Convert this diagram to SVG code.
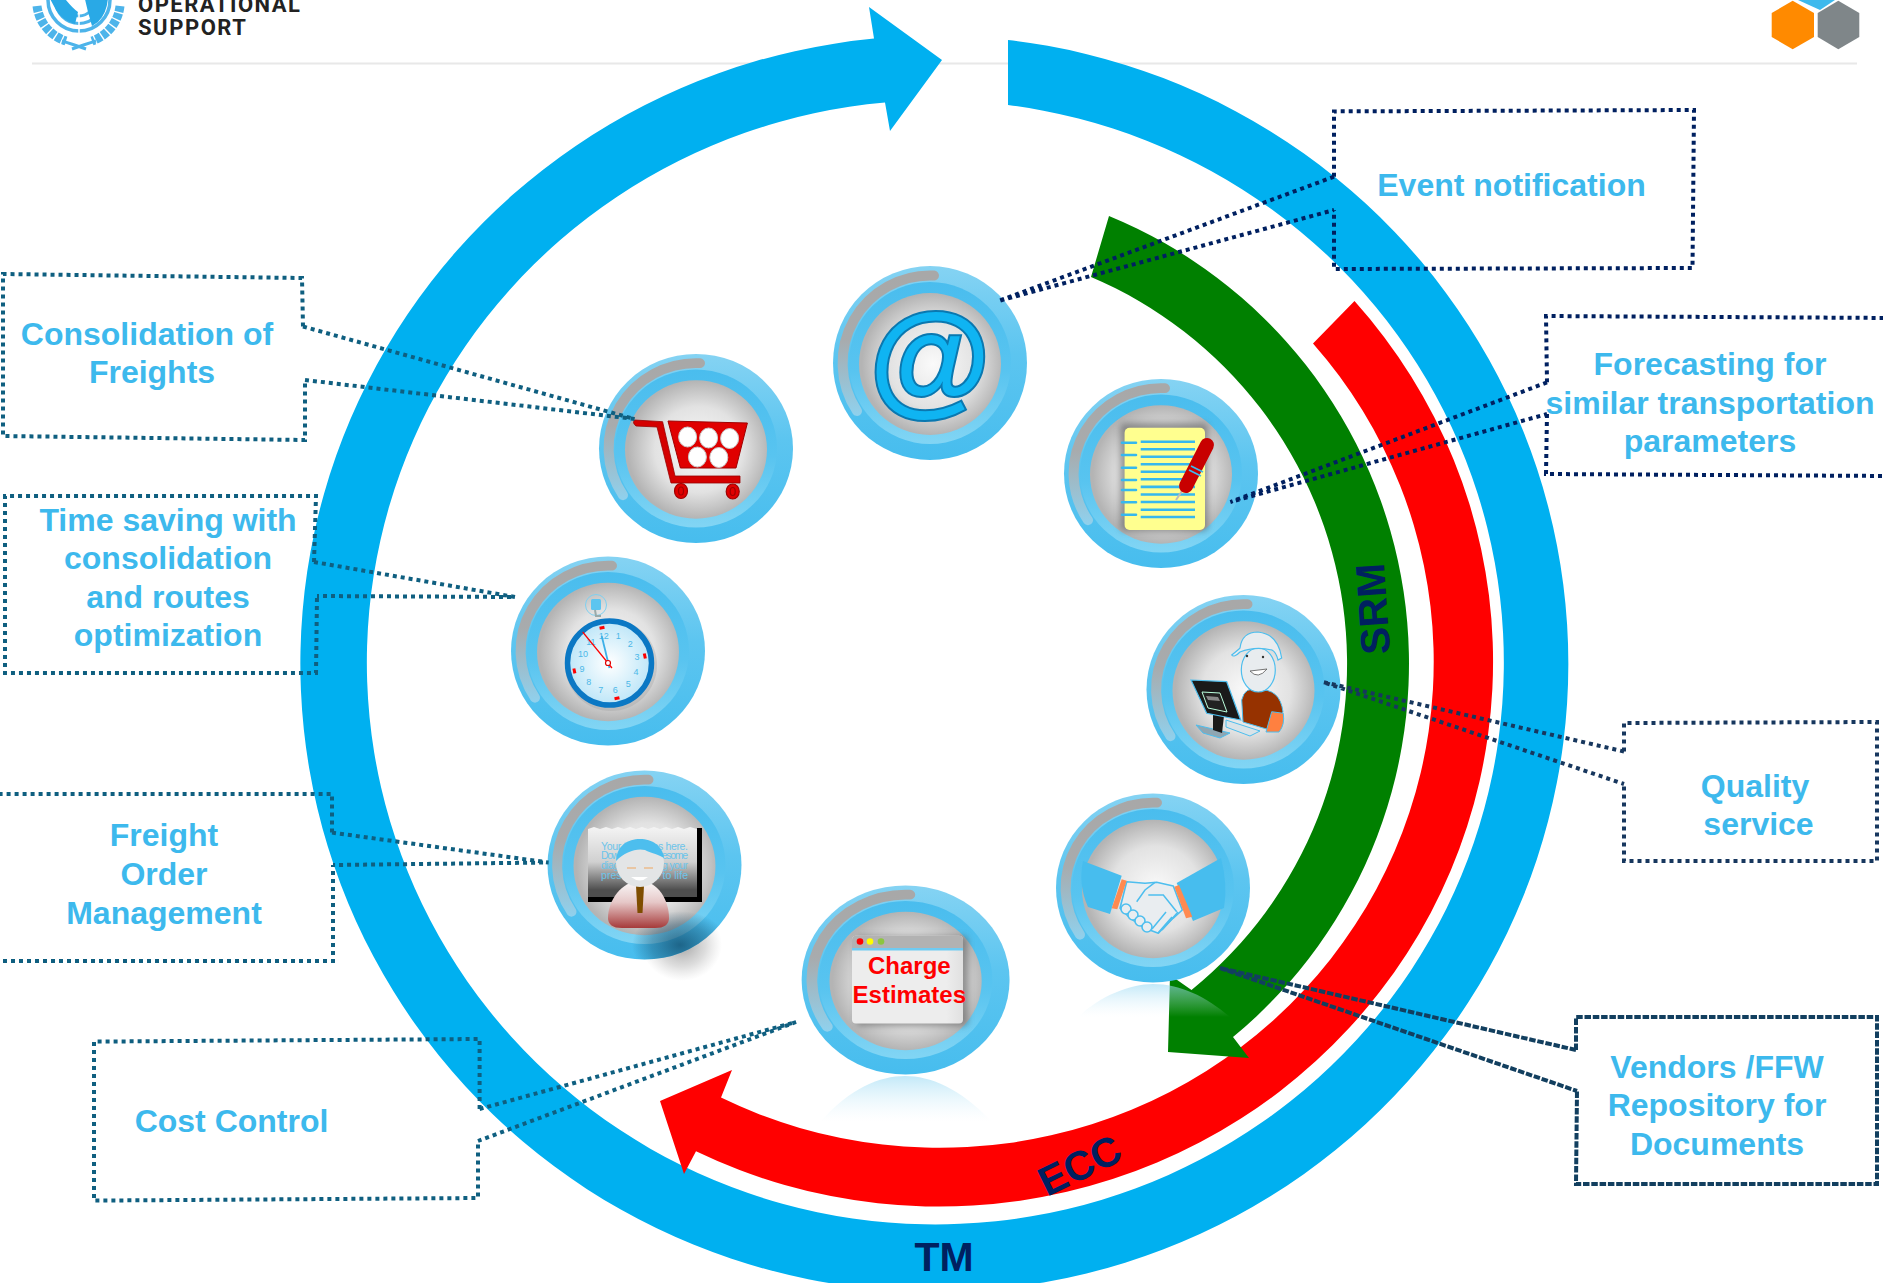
<svg xmlns="http://www.w3.org/2000/svg" xmlns:xlink="http://www.w3.org/1999/xlink" width="1883" height="1283" viewBox="0 0 1883 1283">
<style>
text{font-family:"Liberation Sans",Arial,sans-serif}
.lbl{font-size:32px;font-weight:700;fill:#3DB9ED;text-anchor:middle}
.dark{font-size:41px;font-weight:700;fill:#002060;text-anchor:middle}
.box,.ptr{fill:none;stroke-width:4;stroke-dasharray:4 4}
.teal{stroke:#0F5F80}.navy{stroke:#002060}.slate{stroke:#17375E}
.vend{stroke:#123F5F;stroke-dasharray:6.5 1.8}
.num{font-size:9px;fill:#4DB8E8;text-anchor:middle}
.ce{font-size:24px;font-weight:700;fill:#F00;text-anchor:middle}
.bt{font-size:10.5px;fill:#6CC4EA}
.hand{fill:#E9EDF0;stroke:#4DBEEE;stroke-width:1.6;stroke-linejoin:round}
.nl{fill:none;stroke:#36B8EE;stroke-width:2.6}
.un{fill:none;stroke:#4DB4EA}
</style>
<defs>
<filter id="soft" x="-30%" y="-30%" width="160%" height="160%"><feGaussianBlur stdDeviation="3"/></filter>
<clipPath id="clipOrder"><ellipse cx="644.5" cy="865" rx="97" ry="94.6"/></clipPath>
<linearGradient id="gOuter" x1="0" y1="0" x2="0" y2="1"><stop offset="0" stop-color="#85D3F3"/><stop offset=".45" stop-color="#5CC5F0"/><stop offset="1" stop-color="#47BDEE"/></linearGradient>
<linearGradient id="gRing" x1="0" y1="0" x2="0" y2="1"><stop offset="0" stop-color="#4ABDEE"/><stop offset=".55" stop-color="#58C4F0"/><stop offset="1" stop-color="#82D5F4"/></linearGradient>
<radialGradient id="gDisc" cx=".52" cy=".5" r=".5"><stop offset="0" stop-color="#FAFAFA"/><stop offset=".62" stop-color="#E2E2E2"/><stop offset="1" stop-color="#B4B4B4"/></radialGradient>
<linearGradient id="gArc" gradientUnits="userSpaceOnUse" x1="0" y1="-88" x2="0" y2="55"><stop offset="0" stop-color="#A8A8A8"/><stop offset=".45" stop-color="#A8ABAD"/><stop offset="1" stop-color="#8FD2EF"/></linearGradient>
<linearGradient id="gRefl" x1="0" y1="0" x2="0" y2="1"><stop offset="0" stop-color="#9ADAF4" stop-opacity=".6"/><stop offset="1" stop-color="#DFF3FB" stop-opacity="0"/></linearGradient>
<linearGradient id="gBoard" x1="0" y1="0" x2="0" y2="1"><stop offset="0" stop-color="#F4F4F4"/><stop offset=".5" stop-color="#D0D0D0"/><stop offset=".9" stop-color="#4E4E4E"/></linearGradient>
<linearGradient id="gBody" x1="0" y1="0" x2="0" y2="1"><stop offset="0" stop-color="#FAFAFA"/><stop offset=".45" stop-color="#E6C8C8"/><stop offset="1" stop-color="#A63A3A"/></linearGradient>
<radialGradient id="gFace" cx=".5" cy=".5" r=".5"><stop offset="0" stop-color="#FFF"/><stop offset="1" stop-color="#BDE6F8"/></radialGradient>
<radialGradient id="gShadow" cx=".5" cy=".5" r=".5"><stop offset="0" stop-color="#444" stop-opacity=".5"/><stop offset=".6" stop-color="#777" stop-opacity=".25"/><stop offset="1" stop-color="#999" stop-opacity="0"/></radialGradient>
<radialGradient id="gShadowIn" cx=".5" cy=".5" r=".5"><stop offset="0" stop-color="#0A3F5E" stop-opacity=".7"/><stop offset=".6" stop-color="#0A3F5E" stop-opacity=".35"/><stop offset="1" stop-color="#0A3F5E" stop-opacity="0"/></radialGradient>
<linearGradient id="gWin" x1="0" y1="0" x2="1" y2="0"><stop offset=".85" stop-color="#EDEDED"/><stop offset="1" stop-color="#E0E0E0"/></linearGradient>
<g id="base" transform="scale(1,.975)">
<circle r="97" fill="url(#gOuter)"/>
<circle r="81" fill="url(#gRing)"/>
<circle cy="1" r="71" fill="url(#gDisc)"/>
<path d="M4 -87.5 A87.5 87.5 0 0 0 -73 48" fill="none" stroke="url(#gArc)" stroke-width="10" stroke-linecap="round"/>
</g>
</defs>
<rect width="1883" height="1283" fill="#FFF"/>

<g id="header">
<line x1="32" y1="63.5" x2="1857" y2="63.5" stroke="#E8E8E8" stroke-width="2"/>
<g id="un-emblem">
<path class="un" d="M37 6 A42 42 0 0 0 66 41 M120 6 A42 42 0 0 1 92 41" stroke="#5FC0EE" stroke-width="9" stroke-dasharray="6 1.4"/>
<path class="un" d="M62 41 Q72 44 86 49 M96 41 Q86 44 72 49" stroke-width="3"/>
<circle cx="79" cy="0" r="33" fill="#FFF"/>
<circle class="un" cx="79" cy="0" r="31" stroke-width="3.5"/>
<circle class="un" cx="79" cy="0" r="23.5" stroke-width="3"/>
<circle class="un" cx="79" cy="0" r="16" stroke-width="3"/>
<path d="M48 -5 H62 Q72 8 78 12 L75 24 Q62 20 56 10Z M84 -5 H108 Q108 12 98 22 L92 26 L88 12Z" fill="#29A9E6"/>
<line x1="79" y1="0" x2="79" y2="34" stroke="#FFF" stroke-width="1.5"/>
</g>
<text x="138" y="12" font-size="22" font-weight="700" fill="#222" textLength="162" style="font-family:Roboto,'Liberation Sans',sans-serif">OPERATIONAL</text>
<text x="138" y="35" font-size="22" font-weight="700" fill="#222" textLength="108" style="font-family:Roboto,'Liberation Sans',sans-serif">SUPPORT</text>
<g id="hexagons">
<polygon points="1798,0 1835,0 1820,10" fill="#3DB9ED"/>
<polygon points="1792.7,0.7 1814,13 1814,37 1792.7,49.3 1771.7,37 1771.7,13" fill="#FF8A00"/>
<polygon points="1838.3,0.7 1859.3,13 1859.3,37 1838.3,49.3 1817.7,37 1817.7,13" fill="#7F8689"/>
</g>
</g>

<g id="cycle-arrows">
<path id="arrow-tm" fill="#00B0F0" d="M1008 40 A634 628 0 1 1 874 38.6 L869 7 L942 60 L890 131 L885 102.6 A568.5 562 0 1 0 1008 105 Z"/>
<path id="arrow-ecc" fill="#F00" d="M1354.5 301 A554 545 0 0 1 696 1151.3 L684 1174 L660 1101 L732 1070 L721 1097.6 A494 486 0 0 0 1313 343.5 Z"/>
<path id="arrow-srm" fill="#008000" d="M1109 216 A484 484 0 0 1 1233 1037 L1249 1058 L1168 1052 L1170 975 L1191.5 990 A420 420 0 0 0 1091 277 Z"/>
<text class="dark" x="0" y="0" transform="translate(944,1271)">TM</text>
<text class="dark" x="0" y="0" transform="translate(1387,608) rotate(-94)">SRM</text>
<text class="dark" x="0" y="0" transform="translate(1086,1178) rotate(-26)">ECC</text>
</g>

<g id="reflections">
<path d="M820 1122 C850 1088 880 1076 905 1076 C930 1076 960 1088 992 1122 Z" fill="url(#gRefl)"/>
<path d="M1078 1017 C1100 996 1130 984 1153 984 C1180 984 1205 996 1230 1017 Z" fill="url(#gRefl)"/>
</g>

<g id="node-email">
<use href="#base" transform="translate(930,363) scale(1,1.025)"/>
<text x="928" y="402" text-anchor="middle" style="font-size:124px;font-weight:700;font-style:italic;fill:#0FB4F2;stroke:#0A78B0;stroke-width:4;paint-order:stroke">@</text>
</g>

<g id="node-cart">
<use href="#base" transform="translate(696,448.5)"/>
<path d="M634.5 420 L662.6 421.7 L675 476 L740 476 L740 483 L671 483 L657 427 L636 426 Q632 423 634.5 420Z" fill="#D40000" stroke="#900" stroke-width=".8"/>
<polygon points="668,421 747.4,423 736,468 680.4,468" fill="#E00000" stroke="#A00000" stroke-width="1"/>
<g fill="#FFF" stroke="#C9C9C9" stroke-width="1">
<ellipse cx="687.6" cy="437" rx="9" ry="10"/><ellipse cx="708.6" cy="438" rx="9" ry="10"/><ellipse cx="729.6" cy="438.5" rx="9" ry="10"/>
<ellipse cx="697.4" cy="457" rx="9" ry="10"/><ellipse cx="718.8" cy="457.5" rx="9" ry="10"/>
</g>
<g fill="#E00000" stroke="#A00000" stroke-width="1.2"><ellipse cx="681" cy="491" rx="6.5" ry="7.5"/><ellipse cx="732.7" cy="491.5" rx="6.5" ry="7.5"/><ellipse cx="681" cy="491" rx="2.5" ry="4"/><ellipse cx="732.7" cy="491.5" rx="2.5" ry="4"/></g>
</g>

<g id="node-notes">
<use href="#base" transform="translate(1161,473.5)"/>
<rect x="1120" y="423" width="88" height="108" rx="5" fill="#555" opacity=".55" filter="url(#soft)"/>
<rect x="1124.6" y="427.7" width="80.4" height="102.3" rx="5" fill="#FFFF8F"/>
<path class="nl" d="M1140.7 441.7H1195M1140.7 449.2H1195M1140.7 456.8H1195M1140.7 464.3H1195M1140.7 471.8H1195M1140.7 479.3H1195M1140.7 486.9H1195M1140.7 494.5H1195M1140.7 502H1195M1140.7 509.7H1195M1140.7 517H1195"/>
<path class="nl" d="M1122 442.7H1136M1122 455H1136M1122 467.7H1136M1122 480H1136M1122 490H1136M1122 502.3H1136M1122 514.7H1136" stroke-linecap="round"/>
<line x1="1182" y1="491" x2="1176" y2="500" stroke="#BBB" stroke-width="2"/>
<line x1="1207" y1="445" x2="1186" y2="486" stroke="#C80000" stroke-width="14" stroke-linecap="round"/>
<path d="M1191 466 L1203 472 M1189 470 L1201 476" stroke="#3DB9ED" stroke-width="1.8"/>
</g>

<g id="node-clock">
<use href="#base" transform="translate(608,651)"/>
<circle cx="596" cy="605" r="10.5" fill="none" stroke="#7FD0F0" stroke-width="1"/>
<rect x="591" y="599" width="10" height="11" rx="1.5" fill="#5CC5F0"/>
<path d="M595 610 L596 616 L601 616" fill="none" stroke="#9AA" stroke-width="2"/>
<ellipse cx="611" cy="665" rx="46" ry="46" fill="#999" opacity=".3"/>
<circle cx="609.5" cy="663" r="42" fill="url(#gFace)" stroke="#0B78C4" stroke-width="5.5"/>
<g transform="rotate(-12 609.5 663)" fill="#F00">
<rect x="607" y="625.5" width="5" height="3"/><rect x="607" y="697.5" width="5" height="3"/><rect x="572" y="661" width="3" height="5"/><rect x="644" y="661" width="3" height="5"/>
</g>
<text class="num" x="618.2" y="639.4">1</text><text class="num" x="630.3" y="647.3">2</text><text class="num" x="636.9" y="660.2">3</text><text class="num" x="636.1" y="674.7">4</text><text class="num" x="628.2" y="686.8">5</text><text class="num" x="615.3" y="693.4">6</text><text class="num" x="600.8" y="692.6">7</text><text class="num" x="588.7" y="684.7">8</text><text class="num" x="582.1" y="671.8">9</text><text class="num" x="582.9" y="657.3">10</text><text class="num" x="590.8" y="645.2">11</text><text class="num" x="603.7" y="638.6">12</text>
<line x1="609.5" y1="668" x2="601.7" y2="636" stroke="#3DB0E8" stroke-width="1.8"/>
<line x1="612" y1="668" x2="582.7" y2="632" stroke="#F00" stroke-width="1.2"/>
<circle cx="608" cy="663" r="2.5" fill="#FFF" stroke="#D00" stroke-width="1.2"/>
</g>

<g id="node-order">
<ellipse cx="682" cy="945" rx="40" ry="36" fill="url(#gShadow)"/>
<use href="#base" transform="translate(644.5,865)"/>
<ellipse cx="680" cy="945" rx="48" ry="34" fill="url(#gShadowIn)" clip-path="url(#clipOrder)"/>
<path d="M588 829 L594 827 L600 829 L606 827 L612 829 L618 827 L624 829 L630 827 L636 829 L642 827 L648 829 L654 827 L660 829 L666 827 L672 829 L678 827 L684 829 L690 827 L697 829 L697 897 L588 897 Z" fill="url(#gBoard)"/>
<path d="M697 828 H702 V902 H588 V897 H697 Z" fill="#000"/>
<text class="bt" x="601" y="849.6" textLength="87">Your text goes here.</text>
<text class="bt" x="601" y="859.3" textLength="87">Download this awesome</text>
<text class="bt" x="601" y="869" textLength="87">diagram to bring your</text>
<text class="bt" x="601" y="879" textLength="87">presentation to life</text>
<path d="M608 918 C608 900 622 881 640 881 C658 881 669 900 669 918 Q669 928 655 928 H622 Q608 928 608 918Z" fill="url(#gBody)"/>
<polygon points="636,886 644,886 642.5,913 637.5,913" fill="#7F4D00"/>
<ellipse cx="640" cy="863" rx="24" ry="24" fill="#E3E5E6"/>
<path d="M616 861 C617 845 628 839 640 839 C652 839 663 846 664 858 C655 853 650 853 645 850 C636 848 625 852 616 861Z" fill="#4DBEEE"/>
<path d="M627 868H636M644 868H653" stroke="#F0A860" stroke-width="1.2"/>
<path d="M631 877 Q640 884 648 877 Z" fill="#FFF"/>
</g>

<g id="node-charge">
<use href="#base" transform="translate(905.6,980) scale(1.072,1)"/>
<rect x="856" y="936" width="112" height="90" rx="5" fill="#555" opacity=".55" filter="url(#soft)"/>
<rect x="852" y="935.8" width="111" height="87.7" rx="4" fill="url(#gWin)"/>
<path d="M852 948 V940 Q852 935.8 856 935.8 H959 Q963 935.8 963 940 V948 Z" fill="#B2B2B2"/>
<rect x="852" y="948" width="111" height="2.5" fill="#6FCBF2"/>
<circle cx="860" cy="941.5" r="3.3" fill="#F00"/><circle cx="870" cy="941.5" r="3.3" fill="#FF0"/><circle cx="881" cy="941.5" r="3.3" fill="#8CC63F"/>
<text class="ce" x="909.3" y="974">Charge</text>
<text class="ce" x="909.3" y="1002.5">Estimates</text>
</g>

<g id="node-handshake">
<use href="#base" transform="translate(1153,888)"/>
<path d="M1083 861 L1121.7 875.7 L1110 914 L1088 907 Q1078 885 1083 861Z" fill="#47BDEE"/>
<path d="M1221 858 L1176.7 883 L1193 921 L1224 908 Q1228 885 1221 858Z" fill="#47BDEE"/>
<polygon class="hand" points="1126.7,881.7 1145,883.3 1156.7,882.3 1173.3,886 1182.3,910 1173,918.3 1158.3,933.3 1145,928.3 1130,918 1120,908.3"/>
<g class="hand"><circle cx="1126" cy="909" r="5"/><circle cx="1133" cy="915" r="5"/><circle cx="1140" cy="921" r="5"/><circle cx="1147" cy="927" r="5"/></g>
<path d="M1136.7 901.7 L1145 890 L1155 882.3 M1148.3 895 L1163.3 895 L1176.7 911.7 M1158 933 L1172 917 M1152 929 L1166 912 M1162 930 L1178 912" fill="none" stroke="#4DBEEE" stroke-width="1.5"/>
<polygon points="1121.7,879.3 1126.7,880.7 1117.3,909.3 1111.7,908.3" fill="#FF8A50"/>
<polygon points="1174.3,886.7 1179,885 1192.3,916.7 1186,918.3" fill="#FF8A50"/>
</g>

<g id="node-agent">
<use href="#base" transform="translate(1243.5,689.5)"/>
<path d="M1241.7 700 Q1245 686 1258 690 Q1280 688 1283 712 L1270 730 L1243 722Z" fill="#963200" stroke="#4DBEEE" stroke-width="1"/>
<path d="M1271.7 711.7 L1283.3 713.3 Q1285 725 1279 732 L1266 732 Z" fill="#FF8040" stroke="#4DBEEE" stroke-width="1"/>
<ellipse cx="1258.3" cy="670" rx="17" ry="22" fill="#E8ECEF" stroke="#4DBEEE" stroke-width="1.2"/>
<path d="M1231.7 655 Q1238 650 1240 648 Q1242 632 1258 632 Q1278 634 1281.7 658 L1278 660 Q1276 652 1272 650 Q1255 646 1240 652 Q1234 658 1231.7 655Z" fill="#E8ECEF" stroke="#4DBEEE" stroke-width="1.2"/>
<path d="M1250 671 Q1258 680 1267 669 Z" fill="#FFF" stroke="#555" stroke-width=".8"/>
<circle cx="1247" cy="656" r="1.2" fill="#333"/><circle cx="1263" cy="657" r="1.2" fill="#333"/>
<polygon points="1196,725 1230,733 1220,738 1203,733" fill="#8FA6B2" stroke="#4DBEEE"/>
<polygon points="1213,713 1224,716 1222,733 1213,730" fill="#1A1A1A"/>
<polygon points="1191,680 1226.7,681.7 1240.7,720 1206.7,713.3" fill="#1A1A1A" stroke="#4DBEEE" stroke-width="1.2"/>
<polygon points="1202,692 1220,693 1227,712 1208,708" fill="#222" stroke="#BFD" stroke-width="1"/>
<polygon points="1206,696 1218,697 1220,701 1208,700" fill="#888"/>
<polygon points="1226,720 1260,731 1250,736 1226,727" fill="#D9E3E8" stroke="#4DBEEE"/>
</g>

<g id="label-consolidation">
<path class="box teal" d="M303 326.5 L302 278 L3 274 L3 436 L305 440 L305 380"/>
<text class="lbl" x="147" y="345">Consolidation of</text>
<text class="lbl" x="152" y="383">Freights</text>
</g>
<g id="label-time">
<path class="box teal" d="M314 562 L316 496 L5 496 L5 673 L316 673 L317 596"/>
<text class="lbl" x="168" y="530.5">Time saving with</text>
<text class="lbl" x="168" y="569">consolidation</text>
<text class="lbl" x="168" y="607.5">and routes</text>
<text class="lbl" x="168" y="645.5">optimization</text>
</g>
<g id="label-freight">
<path class="box teal" d="M332 832.6 L332 794 L-5 794 M-5 961 L333 961 L333 865"/>
<text class="lbl" x="164" y="846">Freight</text>
<text class="lbl" x="164" y="884.5">Order</text>
<text class="lbl" x="164" y="923.5">Management</text>
</g>
<g id="label-cost">
<path class="box teal" d="M479.6 1109 L479.6 1039 L94 1041.6 L94 1200.6 L478 1198 L478 1141"/>
<text class="lbl" x="231.5" y="1132">Cost Control</text>
</g>
<g id="label-event">
<path class="box navy" d="M1334 176.7 L1334 111.4 L1694 110 L1692.5 268 L1334 269 L1334 210"/>
<text class="lbl" x="1511.5" y="196">Event notification</text>
</g>
<g id="label-forecast">
<path class="box navy" d="M1547 382.4 L1546 316 L1890 318 M1890 476 L1546 474 L1547 414"/>
<text class="lbl" x="1710" y="375">Forecasting for</text>
<text class="lbl" x="1710" y="413.5">similar transportation</text>
<text class="lbl" x="1710" y="452">parameters</text>
</g>
<g id="label-quality">
<path class="box slate" d="M1624 751.5 L1624 723 L1877 722 L1877 861 L1624 861 L1624 784"/>
<text class="lbl" x="1755" y="796.5">Quality</text>
<text class="lbl" x="1758.5" y="834.7">service</text>
</g>
<g id="label-vendors">
<path class="box vend" d="M1576 1050 L1576 1017 L1877 1017 L1877 1184 L1576 1184 L1577 1091"/>
<text class="lbl" x="1717" y="1077.5">Vendors /FFW</text>
<text class="lbl" x="1717" y="1116">Repository for</text>
<text class="lbl" x="1717" y="1155">Documents</text>
</g>

<g id="connectors">
<path class="ptr teal" d="M303 326.5 L634.5 419 L305 380"/>
<path class="ptr teal" d="M314 562 L515 597 L317 596"/>
<path class="ptr teal" d="M332 832.6 L548.5 862.5 L333 865"/>
<path class="ptr teal" d="M479.6 1109 L796 1022 L478 1141"/>
<path class="ptr navy" d="M1334 176.7 L998.4 301 L1334 210"/>
<path class="ptr navy" d="M1547 382.4 L1230.4 502 L1547 414"/>
<path class="ptr slate" d="M1624 751.5 L1323 682 L1624 784"/>
<path class="ptr vend" d="M1576 1050 L1220 968 L1577 1091"/>
</g>
</svg>
